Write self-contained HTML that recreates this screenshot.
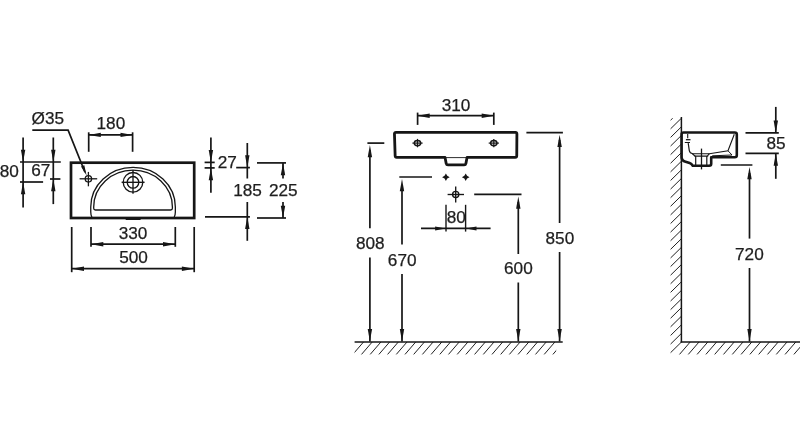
<!DOCTYPE html>
<html><head><meta charset="utf-8"><title>Dimensions</title>
<style>
html,body{margin:0;padding:0;background:#fff;}
body{width:800px;height:434px;overflow:hidden;font-family:"Liberation Sans",sans-serif;}
svg{display:block;will-change:transform;filter:grayscale(1);}
svg line,svg path,svg circle,svg ellipse,svg polyline{stroke:#161616;fill:none;}
svg .f{fill:#161616;stroke:none;}
svg text{font-family:"Liberation Sans",sans-serif;fill:#1e1e1e;stroke:#1e1e1e;stroke-width:0.25px;}
</style></head><body>
<svg width="800" height="434" viewBox="0 0 800 434">
<rect x="0" y="0" width="800" height="434" fill="#fff" stroke="none"/>
<rect x="71.0" y="162.7" width="123.19999999999999" height="55.30000000000001" stroke="#161616" fill="none" stroke-width="2.7"/>
<path d="M91.9,217 Q90.75,215 90.75,212 L90.75,207 A42.3,39.6 0 0 1 175.35,207 L175.35,212 Q175.35,215 174.2,217" stroke-width="1.3" />
<path d="M93.7,208.3 L93.7,207 A39.35,36.8 0 0 1 172.4,207 L172.4,208.3 Q172.4,210 170.7,210 L95.4,210 Q93.7,210 93.7,208.3 Z" stroke-width="1.3" />
<line x1="125.70" y1="219.40" x2="140.60" y2="219.40" stroke-width="1.2" stroke-linecap="butt"/>
<circle cx="88.40" cy="178.80" r="3.20" stroke-width="1.3"/>
<line x1="79.60" y1="178.80" x2="97.20" y2="178.80" stroke-width="1.3" stroke-linecap="butt"/>
<line x1="88.40" y1="171.90" x2="88.40" y2="186.30" stroke-width="1.3" stroke-linecap="butt"/>
<circle cx="133.00" cy="182.30" r="9.80" stroke-width="1.35"/>
<circle cx="133.00" cy="182.30" r="5.80" stroke-width="1.35"/>
<line x1="121.60" y1="182.30" x2="144.60" y2="182.30" stroke-width="1.35" stroke-linecap="butt"/>
<line x1="133.00" y1="170.10" x2="133.00" y2="193.80" stroke-width="1.35" stroke-linecap="butt"/>
<text x="47.80" y="123.90" font-size="17.2" text-anchor="middle">Ø35</text>
<path d="M32.3,130.1 L68.1,130.1 L85.0,172.2" stroke-width="1.7" />
<polygon class="f" points="86.60,175.60 80.98,166.55 84.31,165.20"/>
<line x1="88.70" y1="132.30" x2="88.70" y2="151.80" stroke-width="1.7" stroke-linecap="butt"/>
<line x1="132.60" y1="132.30" x2="132.60" y2="151.80" stroke-width="1.7" stroke-linecap="butt"/>
<line x1="88.70" y1="134.90" x2="132.50" y2="134.90" stroke-width="1.7" stroke-linecap="butt"/>
<polygon class="f" points="88.50,134.90 100.80,132.70 100.80,137.10"/>
<polygon class="f" points="132.80,134.90 120.50,137.10 120.50,132.70"/>
<text x="110.90" y="129.00" font-size="17.2" text-anchor="middle">180</text>
<line x1="23.10" y1="137.50" x2="23.10" y2="207.50" stroke-width="1.7" stroke-linecap="butt"/>
<line x1="20.00" y1="162.00" x2="60.80" y2="162.00" stroke-width="1.7" stroke-linecap="butt"/>
<line x1="20.00" y1="182.00" x2="43.10" y2="182.00" stroke-width="1.7" stroke-linecap="butt"/>
<polygon class="f" points="23.10,162.00 20.90,149.70 25.30,149.70"/>
<polygon class="f" points="23.10,182.00 25.30,194.30 20.90,194.30"/>
<text x="9.20" y="177.30" font-size="17.2" text-anchor="middle">80</text>
<line x1="53.30" y1="137.50" x2="53.30" y2="204.10" stroke-width="1.7" stroke-linecap="butt"/>
<line x1="50.00" y1="179.00" x2="60.40" y2="179.00" stroke-width="1.7" stroke-linecap="butt"/>
<polygon class="f" points="53.30,162.00 51.10,149.70 55.50,149.70"/>
<polygon class="f" points="53.30,179.00 55.50,191.30 51.10,191.30"/>
<text x="40.70" y="176.20" font-size="17.2" text-anchor="middle">67</text>
<line x1="210.90" y1="137.40" x2="210.90" y2="192.70" stroke-width="1.7" stroke-linecap="butt"/>
<line x1="204.60" y1="162.40" x2="214.70" y2="162.40" stroke-width="1.7" stroke-linecap="butt"/>
<line x1="204.60" y1="167.90" x2="214.70" y2="167.90" stroke-width="1.7" stroke-linecap="butt"/>
<polygon class="f" points="210.90,162.40 208.70,150.10 213.10,150.10"/>
<polygon class="f" points="210.90,167.90 213.10,180.20 208.70,180.20"/>
<text x="227.20" y="167.90" font-size="17.2" text-anchor="middle">27</text>
<line x1="247.30" y1="143.00" x2="247.30" y2="178.50" stroke-width="1.7" stroke-linecap="butt"/>
<line x1="247.30" y1="202.00" x2="247.30" y2="240.80" stroke-width="1.7" stroke-linecap="butt"/>
<line x1="236.20" y1="167.60" x2="249.90" y2="167.60" stroke-width="1.7" stroke-linecap="butt"/>
<line x1="205.00" y1="216.80" x2="249.90" y2="216.80" stroke-width="1.7" stroke-linecap="butt"/>
<polygon class="f" points="247.30,167.60 245.10,155.30 249.50,155.30"/>
<polygon class="f" points="247.30,216.80 249.50,229.10 245.10,229.10"/>
<text x="247.50" y="195.80" font-size="17.2" text-anchor="middle">185</text>
<line x1="257.00" y1="162.90" x2="286.00" y2="162.90" stroke-width="1.7" stroke-linecap="butt"/>
<line x1="257.00" y1="218.00" x2="286.00" y2="218.00" stroke-width="1.7" stroke-linecap="butt"/>
<line x1="283.00" y1="162.90" x2="283.00" y2="178.50" stroke-width="1.7" stroke-linecap="butt"/>
<line x1="283.00" y1="202.00" x2="283.00" y2="218.00" stroke-width="1.7" stroke-linecap="butt"/>
<polygon class="f" points="283.00,162.90 285.20,175.20 280.80,175.20"/>
<polygon class="f" points="283.00,218.00 280.80,205.70 285.20,205.70"/>
<text x="283.30" y="195.80" font-size="17.2" text-anchor="middle">225</text>
<line x1="91.00" y1="227.00" x2="91.00" y2="246.80" stroke-width="1.7" stroke-linecap="butt"/>
<line x1="175.30" y1="227.00" x2="175.30" y2="246.80" stroke-width="1.7" stroke-linecap="butt"/>
<line x1="91.00" y1="244.20" x2="175.30" y2="244.20" stroke-width="1.7" stroke-linecap="butt"/>
<polygon class="f" points="91.00,244.20 103.30,242.00 103.30,246.40"/>
<polygon class="f" points="175.30,244.20 163.00,246.40 163.00,242.00"/>
<text x="133.10" y="238.60" font-size="17.2" text-anchor="middle">330</text>
<line x1="71.70" y1="227.00" x2="71.70" y2="272.20" stroke-width="1.7" stroke-linecap="butt"/>
<line x1="194.20" y1="227.00" x2="194.20" y2="272.20" stroke-width="1.7" stroke-linecap="butt"/>
<line x1="71.70" y1="268.70" x2="194.20" y2="268.70" stroke-width="1.7" stroke-linecap="butt"/>
<polygon class="f" points="71.70,268.70 84.00,266.50 84.00,270.90"/>
<polygon class="f" points="194.20,268.70 181.90,270.90 181.90,266.50"/>
<text x="133.50" y="263.10" font-size="17.2" text-anchor="middle">500</text>
<path d="M396.0,132.4 L515.4,132.4 Q516.9,132.4 516.9,133.9 L516.75,155.8 Q516.75,157.3 515.25,157.3 L467.1,157.3 L465.9,163.4 Q465.6,164.9 464.1,164.9 L448.0,164.9 Q446.5,164.9 446.2,163.4 L445,157.3 L396.7,157.3 Q395.2,157.3 395.15,155.8 L394.45,133.9 Q394.4,132.4 396.0,132.4 Z" stroke-width="2.8" stroke-linejoin="round"/>
<line x1="446.00" y1="157.60" x2="466.00" y2="157.60" stroke-width="0.9" stroke-linecap="butt"/>
<ellipse cx="417.5" cy="143.1" rx="3.2" ry="2.6" stroke-width="1.5"/>
<line x1="412.40" y1="143.10" x2="422.60" y2="143.10" stroke-width="1.2" stroke-linecap="butt"/>
<line x1="417.50" y1="138.90" x2="417.50" y2="147.30" stroke-width="1.2" stroke-linecap="butt"/>
<ellipse cx="493.8" cy="143.1" rx="3.2" ry="2.6" stroke-width="1.5"/>
<line x1="488.70" y1="143.10" x2="498.90" y2="143.10" stroke-width="1.2" stroke-linecap="butt"/>
<line x1="493.80" y1="138.90" x2="493.80" y2="147.30" stroke-width="1.2" stroke-linecap="butt"/>
<line x1="417.60" y1="112.60" x2="417.60" y2="124.90" stroke-width="1.7" stroke-linecap="butt"/>
<line x1="493.80" y1="112.60" x2="493.80" y2="124.90" stroke-width="1.7" stroke-linecap="butt"/>
<line x1="417.60" y1="115.70" x2="493.80" y2="115.70" stroke-width="1.7" stroke-linecap="butt"/>
<polygon class="f" points="417.40,115.70 429.70,113.50 429.70,117.90"/>
<polygon class="f" points="494.00,115.70 481.70,117.90 481.70,113.50"/>
<text x="456.10" y="110.50" font-size="17.2" text-anchor="middle">310</text>
<polygon class="f" points="445.9,173.39999999999998 447.25,175.85 449.7,177.2 447.25,178.54999999999998 445.9,181.0 444.54999999999995,178.54999999999998 442.09999999999997,177.2 444.54999999999995,175.85"/>
<polygon class="f" points="465.7,173.39999999999998 467.05,175.85 469.5,177.2 467.05,178.54999999999998 465.7,181.0 464.34999999999997,178.54999999999998 461.9,177.2 464.34999999999997,175.85"/>
<circle cx="455.70" cy="194.50" r="3.10" stroke-width="1.35"/>
<line x1="447.60" y1="194.50" x2="464.00" y2="194.50" stroke-width="1.35" stroke-linecap="butt"/>
<line x1="455.70" y1="186.60" x2="455.70" y2="202.40" stroke-width="1.35" stroke-linecap="butt"/>
<line x1="446.00" y1="204.80" x2="446.00" y2="231.60" stroke-width="1.4" stroke-linecap="butt"/>
<line x1="465.60" y1="204.80" x2="465.60" y2="231.60" stroke-width="1.4" stroke-linecap="butt"/>
<line x1="421.00" y1="228.40" x2="490.60" y2="228.40" stroke-width="1.7" stroke-linecap="butt"/>
<polygon class="f" points="445.60,228.40 435.10,230.40 435.10,226.40"/>
<polygon class="f" points="466.00,228.40 476.50,226.40 476.50,230.40"/>
<text x="456.30" y="223.00" font-size="17.2" text-anchor="middle">80</text>
<line x1="367.40" y1="143.10" x2="384.30" y2="143.10" stroke-width="1.7" stroke-linecap="butt"/>
<line x1="369.90" y1="150.00" x2="369.90" y2="228.30" stroke-width="1.7" stroke-linecap="butt"/>
<line x1="369.90" y1="257.40" x2="369.90" y2="341.50" stroke-width="1.7" stroke-linecap="butt"/>
<polygon class="f" points="369.90,144.90 372.10,157.20 367.70,157.20"/>
<polygon class="f" points="369.90,341.30 367.70,329.00 372.10,329.00"/>
<text x="370.30" y="248.60" font-size="17.2" text-anchor="middle">808</text>
<line x1="399.30" y1="177.00" x2="432.00" y2="177.00" stroke-width="1.7" stroke-linecap="butt"/>
<line x1="402.00" y1="185.00" x2="402.00" y2="244.50" stroke-width="1.7" stroke-linecap="butt"/>
<line x1="402.00" y1="274.00" x2="402.00" y2="341.50" stroke-width="1.7" stroke-linecap="butt"/>
<polygon class="f" points="402.00,179.00 404.20,191.30 399.80,191.30"/>
<polygon class="f" points="402.00,341.30 399.80,329.00 404.20,329.00"/>
<text x="402.20" y="265.50" font-size="17.2" text-anchor="middle">670</text>
<line x1="474.20" y1="194.40" x2="521.50" y2="194.40" stroke-width="1.7" stroke-linecap="butt"/>
<line x1="518.30" y1="202.00" x2="518.30" y2="254.00" stroke-width="1.7" stroke-linecap="butt"/>
<line x1="518.30" y1="282.50" x2="518.30" y2="341.50" stroke-width="1.7" stroke-linecap="butt"/>
<polygon class="f" points="518.30,196.50 520.50,208.80 516.10,208.80"/>
<polygon class="f" points="518.30,341.30 516.10,329.00 520.50,329.00"/>
<text x="518.40" y="274.10" font-size="17.2" text-anchor="middle">600</text>
<line x1="526.40" y1="132.70" x2="562.90" y2="132.70" stroke-width="1.7" stroke-linecap="butt"/>
<line x1="559.60" y1="140.00" x2="559.60" y2="223.00" stroke-width="1.7" stroke-linecap="butt"/>
<line x1="559.60" y1="252.00" x2="559.60" y2="341.50" stroke-width="1.7" stroke-linecap="butt"/>
<polygon class="f" points="559.60,134.80 561.80,147.10 557.40,147.10"/>
<polygon class="f" points="559.60,341.30 557.40,329.00 561.80,329.00"/>
<text x="559.90" y="243.70" font-size="17.2" text-anchor="middle">850</text>
<line x1="354.60" y1="342.00" x2="562.70" y2="342.00" stroke-width="1.5" stroke-linecap="butt"/>
<clipPath id="c1"><rect x="354.6" y="340" width="201.6" height="20"/></clipPath><g clip-path="url(#c1)">
<line x1="363.50" y1="342.00" x2="352.80" y2="354.40" stroke-width="0.95" stroke-linecap="butt"/>
<line x1="372.20" y1="342.00" x2="361.50" y2="354.40" stroke-width="0.95" stroke-linecap="butt"/>
<line x1="380.90" y1="342.00" x2="370.20" y2="354.40" stroke-width="0.95" stroke-linecap="butt"/>
<line x1="389.60" y1="342.00" x2="378.90" y2="354.40" stroke-width="0.95" stroke-linecap="butt"/>
<line x1="398.30" y1="342.00" x2="387.60" y2="354.40" stroke-width="0.95" stroke-linecap="butt"/>
<line x1="407.00" y1="342.00" x2="396.30" y2="354.40" stroke-width="0.95" stroke-linecap="butt"/>
<line x1="415.70" y1="342.00" x2="405.00" y2="354.40" stroke-width="0.95" stroke-linecap="butt"/>
<line x1="424.40" y1="342.00" x2="413.70" y2="354.40" stroke-width="0.95" stroke-linecap="butt"/>
<line x1="433.10" y1="342.00" x2="422.40" y2="354.40" stroke-width="0.95" stroke-linecap="butt"/>
<line x1="441.80" y1="342.00" x2="431.10" y2="354.40" stroke-width="0.95" stroke-linecap="butt"/>
<line x1="450.50" y1="342.00" x2="439.80" y2="354.40" stroke-width="0.95" stroke-linecap="butt"/>
<line x1="459.20" y1="342.00" x2="448.50" y2="354.40" stroke-width="0.95" stroke-linecap="butt"/>
<line x1="467.90" y1="342.00" x2="457.20" y2="354.40" stroke-width="0.95" stroke-linecap="butt"/>
<line x1="476.60" y1="342.00" x2="465.90" y2="354.40" stroke-width="0.95" stroke-linecap="butt"/>
<line x1="485.30" y1="342.00" x2="474.60" y2="354.40" stroke-width="0.95" stroke-linecap="butt"/>
<line x1="494.00" y1="342.00" x2="483.30" y2="354.40" stroke-width="0.95" stroke-linecap="butt"/>
<line x1="502.70" y1="342.00" x2="492.00" y2="354.40" stroke-width="0.95" stroke-linecap="butt"/>
<line x1="511.40" y1="342.00" x2="500.70" y2="354.40" stroke-width="0.95" stroke-linecap="butt"/>
<line x1="520.10" y1="342.00" x2="509.40" y2="354.40" stroke-width="0.95" stroke-linecap="butt"/>
<line x1="528.80" y1="342.00" x2="518.10" y2="354.40" stroke-width="0.95" stroke-linecap="butt"/>
<line x1="537.50" y1="342.00" x2="526.80" y2="354.40" stroke-width="0.95" stroke-linecap="butt"/>
<line x1="546.20" y1="342.00" x2="535.50" y2="354.40" stroke-width="0.95" stroke-linecap="butt"/>
<line x1="554.90" y1="342.00" x2="544.20" y2="354.40" stroke-width="0.95" stroke-linecap="butt"/>
<line x1="563.60" y1="342.00" x2="552.90" y2="354.40" stroke-width="0.95" stroke-linecap="butt"/>
</g>
<line x1="681.40" y1="117.00" x2="681.40" y2="342.50" stroke-width="1.5" stroke-linecap="butt"/>
<line x1="680.70" y1="342.00" x2="800.00" y2="342.00" stroke-width="1.5" stroke-linecap="butt"/>
<clipPath id="c2"><rect x="668" y="118.3" width="140" height="240"/></clipPath><g clip-path="url(#c2)">
<line x1="681.40" y1="109.59" x2="670.60" y2="120.19" stroke-width="0.95" stroke-linecap="butt"/>
<line x1="681.40" y1="118.20" x2="670.60" y2="128.80" stroke-width="0.95" stroke-linecap="butt"/>
<line x1="681.40" y1="126.81" x2="670.60" y2="137.41" stroke-width="0.95" stroke-linecap="butt"/>
<line x1="681.40" y1="135.42" x2="670.60" y2="146.02" stroke-width="0.95" stroke-linecap="butt"/>
<line x1="681.40" y1="144.03" x2="670.60" y2="154.63" stroke-width="0.95" stroke-linecap="butt"/>
<line x1="681.40" y1="152.64" x2="670.60" y2="163.24" stroke-width="0.95" stroke-linecap="butt"/>
<line x1="681.40" y1="161.25" x2="670.60" y2="171.85" stroke-width="0.95" stroke-linecap="butt"/>
<line x1="681.40" y1="169.86" x2="670.60" y2="180.46" stroke-width="0.95" stroke-linecap="butt"/>
<line x1="681.40" y1="178.47" x2="670.60" y2="189.07" stroke-width="0.95" stroke-linecap="butt"/>
<line x1="681.40" y1="187.08" x2="670.60" y2="197.68" stroke-width="0.95" stroke-linecap="butt"/>
<line x1="681.40" y1="195.69" x2="670.60" y2="206.29" stroke-width="0.95" stroke-linecap="butt"/>
<line x1="681.40" y1="204.30" x2="670.60" y2="214.90" stroke-width="0.95" stroke-linecap="butt"/>
<line x1="681.40" y1="212.91" x2="670.60" y2="223.51" stroke-width="0.95" stroke-linecap="butt"/>
<line x1="681.40" y1="221.52" x2="670.60" y2="232.12" stroke-width="0.95" stroke-linecap="butt"/>
<line x1="681.40" y1="230.13" x2="670.60" y2="240.73" stroke-width="0.95" stroke-linecap="butt"/>
<line x1="681.40" y1="238.74" x2="670.60" y2="249.34" stroke-width="0.95" stroke-linecap="butt"/>
<line x1="681.40" y1="247.35" x2="670.60" y2="257.95" stroke-width="0.95" stroke-linecap="butt"/>
<line x1="681.40" y1="255.96" x2="670.60" y2="266.56" stroke-width="0.95" stroke-linecap="butt"/>
<line x1="681.40" y1="264.57" x2="670.60" y2="275.17" stroke-width="0.95" stroke-linecap="butt"/>
<line x1="681.40" y1="273.18" x2="670.60" y2="283.78" stroke-width="0.95" stroke-linecap="butt"/>
<line x1="681.40" y1="281.79" x2="670.60" y2="292.39" stroke-width="0.95" stroke-linecap="butt"/>
<line x1="681.40" y1="290.40" x2="670.60" y2="301.00" stroke-width="0.95" stroke-linecap="butt"/>
<line x1="681.40" y1="299.01" x2="670.60" y2="309.61" stroke-width="0.95" stroke-linecap="butt"/>
<line x1="681.40" y1="307.62" x2="670.60" y2="318.22" stroke-width="0.95" stroke-linecap="butt"/>
<line x1="681.40" y1="316.23" x2="670.60" y2="326.83" stroke-width="0.95" stroke-linecap="butt"/>
<line x1="681.40" y1="324.84" x2="670.60" y2="335.44" stroke-width="0.95" stroke-linecap="butt"/>
<line x1="681.40" y1="333.45" x2="670.60" y2="344.05" stroke-width="0.95" stroke-linecap="butt"/>
<line x1="681.40" y1="342.06" x2="670.60" y2="352.66" stroke-width="0.95" stroke-linecap="butt"/>
<line x1="690.20" y1="342.00" x2="679.50" y2="354.40" stroke-width="0.95" stroke-linecap="butt"/>
<line x1="699.00" y1="342.00" x2="688.30" y2="354.40" stroke-width="0.95" stroke-linecap="butt"/>
<line x1="707.80" y1="342.00" x2="697.10" y2="354.40" stroke-width="0.95" stroke-linecap="butt"/>
<line x1="716.60" y1="342.00" x2="705.90" y2="354.40" stroke-width="0.95" stroke-linecap="butt"/>
<line x1="725.40" y1="342.00" x2="714.70" y2="354.40" stroke-width="0.95" stroke-linecap="butt"/>
<line x1="734.20" y1="342.00" x2="723.50" y2="354.40" stroke-width="0.95" stroke-linecap="butt"/>
<line x1="743.00" y1="342.00" x2="732.30" y2="354.40" stroke-width="0.95" stroke-linecap="butt"/>
<line x1="751.80" y1="342.00" x2="741.10" y2="354.40" stroke-width="0.95" stroke-linecap="butt"/>
<line x1="760.60" y1="342.00" x2="749.90" y2="354.40" stroke-width="0.95" stroke-linecap="butt"/>
<line x1="769.40" y1="342.00" x2="758.70" y2="354.40" stroke-width="0.95" stroke-linecap="butt"/>
<line x1="778.20" y1="342.00" x2="767.50" y2="354.40" stroke-width="0.95" stroke-linecap="butt"/>
<line x1="787.00" y1="342.00" x2="776.30" y2="354.40" stroke-width="0.95" stroke-linecap="butt"/>
<line x1="795.80" y1="342.00" x2="785.10" y2="354.40" stroke-width="0.95" stroke-linecap="butt"/>
<line x1="804.60" y1="342.00" x2="793.90" y2="354.40" stroke-width="0.95" stroke-linecap="butt"/>
<line x1="813.40" y1="342.00" x2="802.70" y2="354.40" stroke-width="0.95" stroke-linecap="butt"/>
</g>
<path d="M683.5,132.5 L734.8,132.5 Q736.8,132.5 736.8,134.5 L736.8,155.2 Q736.8,157.2 734.8,157.2 L711.2,157.2 L711.2,163.8 Q711.2,165.8 709.2,165.8 L692.8,165.8 Q691.6,163.6 689.6,163.0 L685.6,161.8 Q681.6,160.6 681.6,157.2 L681.6,134.5 Q681.6,132.5 683.5,132.5 Z" stroke-width="2.6" stroke-linejoin="round"/>
<line x1="687.70" y1="134.00" x2="687.70" y2="138.20" stroke-width="1.1" stroke-linecap="butt"/>
<line x1="685.90" y1="139.70" x2="690.50" y2="139.70" stroke-width="1.3" stroke-linecap="butt"/>
<line x1="684.80" y1="142.50" x2="690.00" y2="142.50" stroke-width="1.0" stroke-linecap="butt"/>
<path d="M688.2,143.2 L689.3,150.6 Q689.8,153.2 692.3,153.5 L695.7,156.7 L695.7,165" stroke-width="1.2" />
<path d="M692.3,153.7 L709.4,153.7 L728,150.8 L734.3,134.2" stroke-width="1.1" />
<path d="M694.8,156.2 L708.2,156.2 M709.4,153.7 L706.8,156.7 L706.8,165" stroke-width="1.2" />
<path d="M712.2,155.8 L732.0,155.0 L728,150.8" stroke-width="1.0" />
<line x1="701.50" y1="148.60" x2="701.50" y2="169.40" stroke-width="1.3" stroke-linecap="butt"/>
<line x1="745.50" y1="132.80" x2="778.80" y2="132.80" stroke-width="1.7" stroke-linecap="butt"/>
<line x1="745.50" y1="153.40" x2="778.80" y2="153.40" stroke-width="1.7" stroke-linecap="butt"/>
<line x1="775.80" y1="106.90" x2="775.80" y2="132.80" stroke-width="1.7" stroke-linecap="butt"/>
<line x1="775.80" y1="153.40" x2="775.80" y2="178.80" stroke-width="1.7" stroke-linecap="butt"/>
<polygon class="f" points="775.80,132.80 773.60,120.50 778.00,120.50"/>
<polygon class="f" points="775.80,153.40 778.00,165.70 773.60,165.70"/>
<text x="776.00" y="148.60" font-size="17.2" text-anchor="middle">85</text>
<line x1="720.80" y1="165.00" x2="752.40" y2="165.00" stroke-width="1.7" stroke-linecap="butt"/>
<line x1="749.50" y1="173.00" x2="749.50" y2="238.60" stroke-width="1.7" stroke-linecap="butt"/>
<line x1="749.50" y1="268.00" x2="749.50" y2="341.50" stroke-width="1.7" stroke-linecap="butt"/>
<polygon class="f" points="749.50,167.00 751.70,179.30 747.30,179.30"/>
<polygon class="f" points="749.50,341.30 747.30,329.00 751.70,329.00"/>
<text x="749.40" y="259.90" font-size="17.2" text-anchor="middle">720</text>
</svg>
</body></html>
